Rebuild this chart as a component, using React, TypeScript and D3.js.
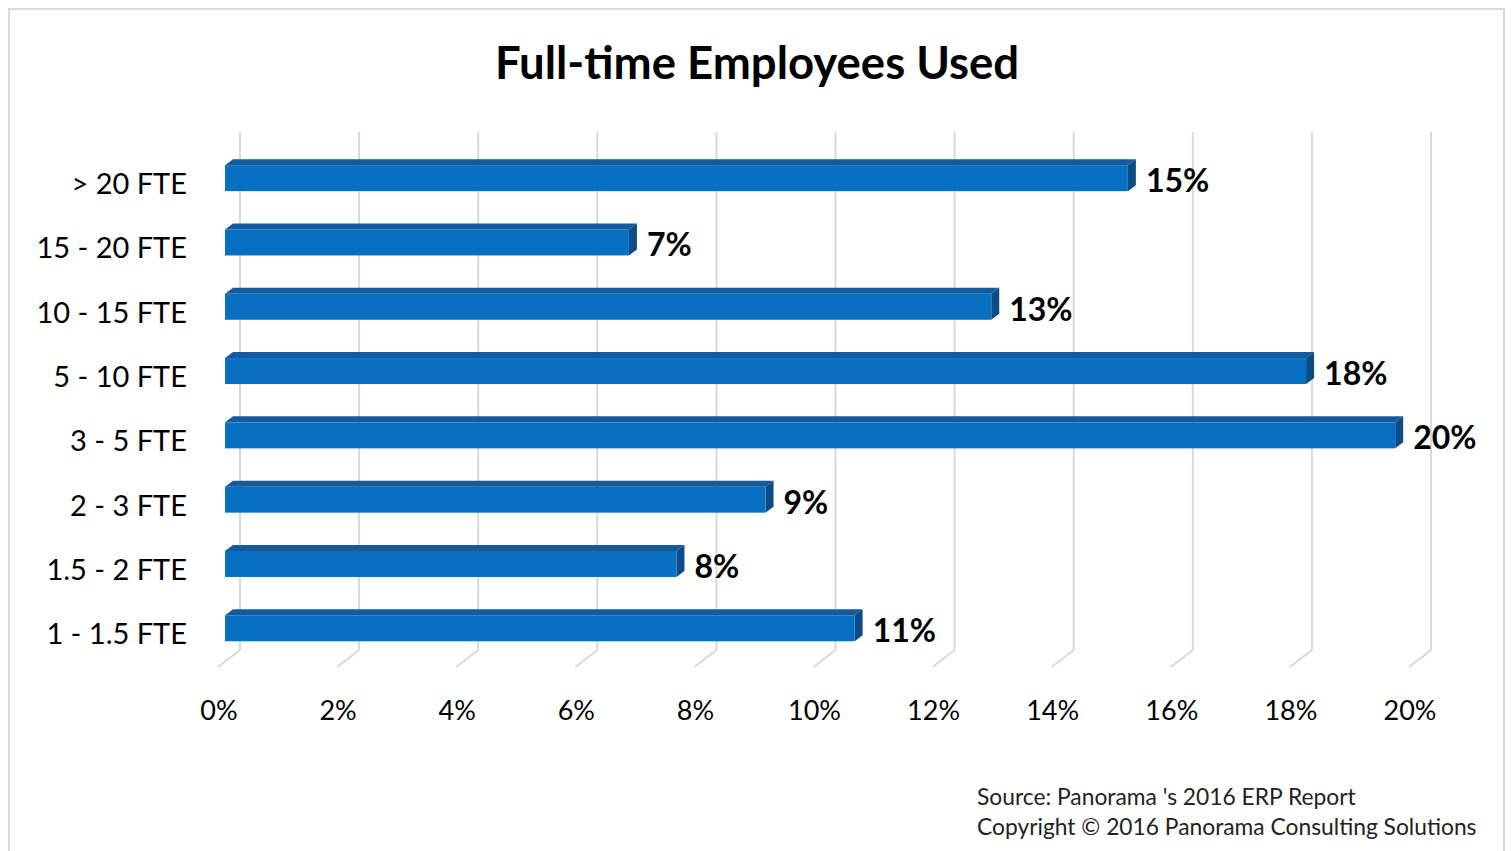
import React, { useEffect } from "react";
import * as d3 from "d3";

const categories = ["> 20 FTE", "15 - 20 FTE", "10 - 15 FTE", "5 - 10 FTE", "3 - 5 FTE", "2 - 3 FTE", "1.5 - 2 FTE", "1 - 1.5 FTE"];
const values = [15.2, 6.8, 12.9, 18.2, 19.7, 9.1, 7.6, 10.6];
const valueLabels = ["15%", "7%", "13%", "18%", "20%", "9%", "8%", "11%"];
const ticks = [0, 2, 4, 6, 8, 10, 12, 14, 16, 18, 20];
const title = "Full-time Employees Used";
const sourceLines = ["Source: Panorama 's 2016 ERP Report", "Copyright \u00A9 2016 Panorama Consulting Solutions"];

const W = 1512;
const H = 851;
const FONT = "Lato, 'Open Sans', sans-serif";

export default function App() {
  useEffect(() => {
    document.body.style.margin = "0";
  }, []);

  // back wall scale
  const xBack = d3.scaleLinear().domain([0, 20]).range([240, 1431]);
  // front floor offset
  const floorDx = -22;
  const floorDy = 17;
  const wallTop = 132;
  const wallBottom = 650;
  // bar front plane
  const xBar = d3.scaleLinear().domain([0, 20]).range([225, 225 + 20 * 59.4]);
  const y = d3.scaleBand().domain(categories).range([146, 146 + 8 * 64.3]).paddingInner(0.6).paddingOuter(0.3);
  const barH = 26;
  const dX = 8;
  const dY = -6;

  const frontCol = "#0870C2";
  const topCol = "#155A9C";
  const sideCol = "#0B4C86";

  return (
    <svg width={W} height={H} style={{ display: "block", background: "#fff" }}>
      <rect x={9} y={9} width={1495} height={H} fill="#fff" stroke="#d9d9d9" strokeWidth={2} />
      <text x={757} y={79} textAnchor="middle" fontFamily={FONT} fontWeight="bold" fontSize={45.5} fill="#000">
        {title}
      </text>
      {/* gridlines */}
      {ticks.map((t) => {
        const xb = xBack(t);
        return (
          <path
            key={t}
            d={`M${xb},${wallTop}L${xb},${wallBottom}L${xb + floorDx},${wallBottom + floorDy}`}
            fill="none"
            stroke="#d9d9d9"
            strokeWidth={2}
          />
        );
      })}
      {/* tick labels */}
      {ticks.map((t) => (
        <text key={"t" + t} x={xBack(t) + floorDx + 1} y={720} textAnchor="middle" fontFamily={FONT} fontSize={27} fill="#000">
          {t + "%"}
        </text>
      ))}
      {/* bars */}
      {categories.map((c, i) => {
        const y0 = (y(c) as number) + (y.bandwidth() - barH) / 2;
        const x0 = xBar(0);
        const x1 = xBar(values[i]);
        return (
          <g key={c}>
            <path d={`M${x0},${y0}L${x0 + dX},${y0 + dY}L${x1 + dX},${y0 + dY}L${x1},${y0}Z`} fill={topCol} />
            <path d={`M${x1},${y0}L${x1 + dX},${y0 + dY}L${x1 + dX},${y0 + barH + dY}L${x1},${y0 + barH}Z`} fill={sideCol} />
            <rect x={x0} y={y0} width={x1 - x0} height={barH} fill={frontCol} />
            <text x={x1 + dX + 10} y={y0 + 27} fontFamily={FONT} fontWeight="bold" fontSize={32} fill="#000">
              {valueLabels[i]}
            </text>
            <text x={187} y={y0 + 29} textAnchor="end" fontFamily={FONT} fontSize={29} fill="#000">
              {c}
            </text>
          </g>
        );
      })}
      {sourceLines.map((s, i) => (
        <text key={s} x={977} y={805 + i * 30} fontFamily={FONT} fontSize={22.8} fill="#222">
          {s}
        </text>
      ))}
    </svg>
  );
}
